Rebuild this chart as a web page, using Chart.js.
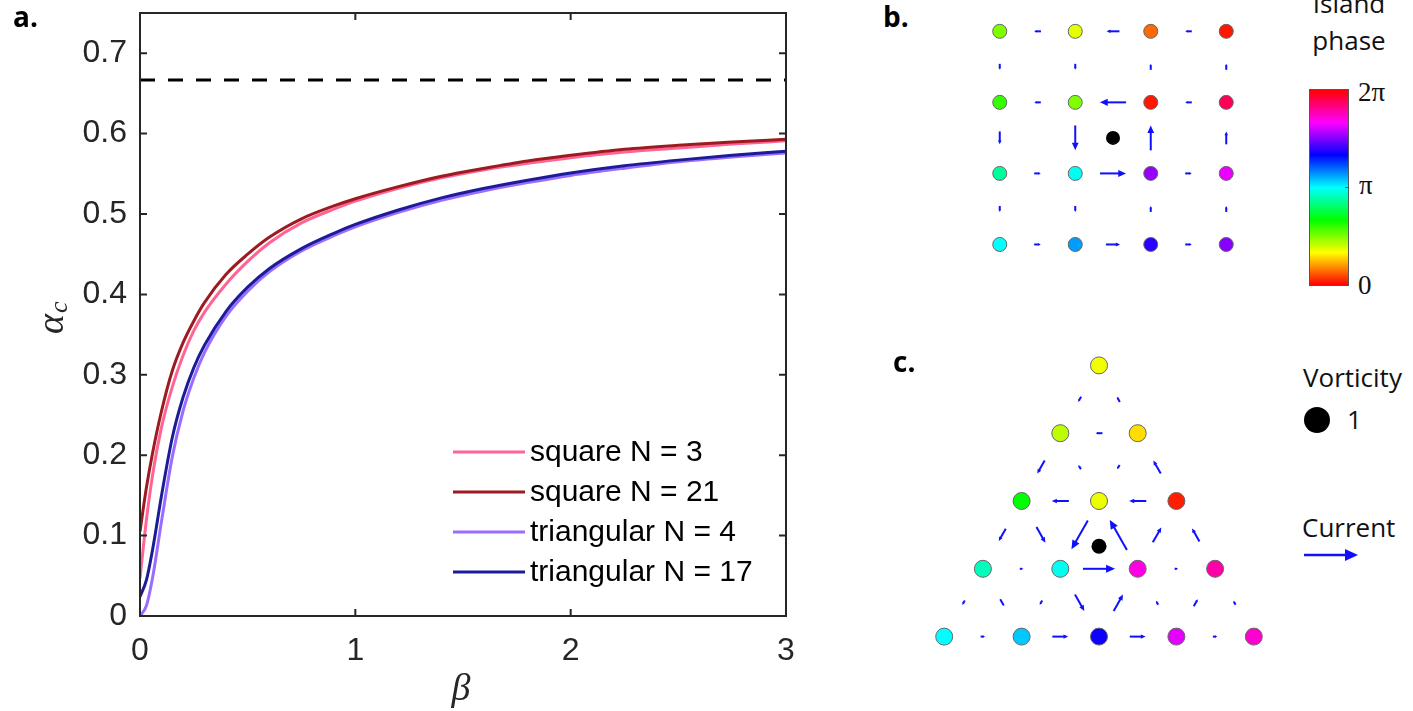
<!DOCTYPE html>
<html>
<head>
<meta charset="utf-8">
<script src="https://cdn.jsdelivr.net/npm/chart.js@4.4.1/dist/chart.umd.min.js"></script>
<style>
  html, body { margin: 0; padding: 0; background: #fff; }
  body { width: 1413px; height: 711px; position: relative; overflow: hidden; font-family: "Open Sans", sans-serif; color: #111; }
  canvas { position: absolute; }
  .tag { position: absolute; font-weight: 700; font-size: 28px; line-height: 1; color: #000; }
  .txt { position: absolute; font-size: 26px; line-height: 1; white-space: nowrap; }
  .tex { position: absolute; font-family: "Liberation Serif", serif; font-size: 27px; line-height: 1; }
  #cbar { position: absolute; left: 1309px; top: 89px; width: 40px; height: 197px; box-sizing: border-box; border: 1px solid #555; }
</style>
</head>
<body>
<canvas id="curves" width="800" height="711" style="left:0;top:0"></canvas>
<canvas id="square" width="318" height="286" style="left:954px;top:2px"></canvas>
<canvas id="triangle" width="406" height="358" style="left:896px;top:322px"></canvas>

<div class="tag" style="left:13px;top:2px">a.</div>
<div class="tag" style="left:883px;top:2px">b.</div>
<div class="tag" style="left:893px;top:347px">c.</div>

<!-- colour bar for the island phase -->
<div class="txt" style="left:1289px;top:-10px;width:120px;text-align:center">Island</div>
<div class="txt" style="left:1289px;top:27px;width:120px;text-align:center">phase</div>
<div id="cbar"></div>
<div style="position:absolute;left:1345px;top:187px;width:3px;height:1px;background:#555"></div>
<div class="tex" style="left:1358px;top:79px">2π</div>
<div class="tex" style="left:1359px;top:172px">π</div>
<div class="tex" style="left:1358px;top:272px">0</div>

<!-- key for vortices and currents -->
<div class="txt" style="left:1303px;top:364px">Vorticity</div>
<div style="position:absolute;left:1304px;top:407px;width:26px;height:26px;border-radius:50%;background:#000"></div>
<div class="txt" style="left:1347px;top:406px">1</div>
<div class="txt" style="left:1302px;top:514px">Current</div>
<svg style="position:absolute;left:1300px;top:545px" width="64" height="20">
  <line x1="4" y1="10" x2="48" y2="10" stroke="#1010ff" stroke-width="2.5"/>
  <polygon points="58,10 45,4 45,16" fill="#1010ff"/>
</svg>

<script>
// ---- panel a: critical coupling vs beta ----
const beta = [0, 0.03, 0.06, 0.1, 0.15, 0.2, 0.25, 0.3, 0.4, 0.5, 0.6, 0.75, 0.9, 1.0, 1.2, 1.4, 1.6, 1.8, 2.0, 2.25, 2.5, 2.75, 3.0];
const squareN3 = [0.047, 0.12, 0.178, 0.235, 0.285, 0.324, 0.355, 0.378, 0.413, 0.441, 0.464, 0.489, 0.506, 0.516, 0.532, 0.545, 0.555, 0.563, 0.57, 0.577, 0.582, 0.587, 0.591];
const squareN21 = [0.105, 0.16, 0.205, 0.255, 0.305, 0.34, 0.367, 0.39, 0.425, 0.45, 0.471, 0.494, 0.51, 0.519, 0.534, 0.547, 0.557, 0.566, 0.573, 0.5805, 0.5855, 0.5895, 0.593];
const triN4 = [0, 0.013, 0.05, 0.118, 0.198, 0.255, 0.296, 0.328, 0.373, 0.404, 0.428, 0.454, 0.473, 0.484, 0.502, 0.517, 0.529, 0.539, 0.548, 0.557, 0.565, 0.571, 0.576];
const triN17 = [0.024, 0.045, 0.085, 0.15, 0.222, 0.272, 0.309, 0.337, 0.379, 0.409, 0.432, 0.457, 0.476, 0.487, 0.505, 0.52, 0.532, 0.542, 0.551, 0.56, 0.567, 0.573, 0.578];
const alphaLimit = 2 / 3;

const seriesLabels = ["square N = 3", "square N = 21", "triangular N = 4", "triangular N = 17"];
const seriesValues = [squareN3, squareN21, triN4, triN17];
const seriesColors = ["#ff6495", "#9b1b20", "#9a6cff", "#1c1c99"];
const seriesOrder = [4, 3, 2, 1];

const xTicks = [0, 1, 2, 3];
const yTicks = [0, 0.1, 0.2, 0.3, 0.4, 0.5, 0.6, 0.7];

// ---- panel b: square lattice, phases in units of pi ----
const sqPhase = [
  [0.5, 0.37, 0.14, 0.03],
  [0.6, 0.5, 0.03, 1.89],
  [0.87, 0.98, 1.53, 1.64],
  [1.0, 1.13, 1.39, 1.51]
];
// bond currents: horizontal (+ = to the right), vertical (+ = downwards)
const sqCurrentH = [
  [-0.23, -0.43, -0.22],
  [-0.22, -0.87, -0.22],
  [0.22, 0.87, 0.22],
  [0.22, 0.47, 0.22]
];
const sqCurrentV = [
  [0.2, 0.2, -0.2, -0.2],
  [0.43, 0.83, -0.83, -0.43],
  [0.2, 0.2, -0.2, -0.2]
];
const sqVortexCell = [[1, 1], [1, 2], [2, 1], [2, 2]];

// ---- panel c: triangular lattice, phases in units of pi ----
const triPhase = [
  [0.35],
  [0.42, 0.29],
  [0.67, 0.36, 0.04],
  [0.91, 0.98, 1.70, 1.78],
  [1.0, 1.07, 1.35, 1.63, 1.73]
];
// [row, k] -> [row, k], current flowing from the first island to the second
const triLinks = [
  [0, 0, 1, 0, 0.2], [1, 1, 0, 0, 0.2], [1, 1, 1, 0, 0.23],
  [1, 0, 2, 0, 0.5], [2, 1, 1, 0, 0.17], [1, 1, 2, 1, 0.17], [2, 2, 1, 1, 0.5],
  [2, 2, 2, 1, 0.57], [2, 1, 2, 0, 0.57],
  [2, 0, 3, 0, 0.47], [2, 0, 3, 1, 0.6], [2, 1, 3, 1, 1.1], [3, 2, 2, 1, 1.15], [3, 2, 2, 2, 0.57], [3, 3, 2, 2, 0.5],
  [3, 0, 3, 1, 0.12], [3, 1, 3, 2, 1.07], [3, 2, 3, 3, 0.12],
  [3, 0, 4, 0, 0.17], [3, 0, 4, 1, 0.27], [3, 1, 4, 1, 0.17], [3, 1, 4, 2, 0.63],
  [4, 2, 3, 2, 0.63], [4, 3, 3, 2, 0.15], [4, 3, 3, 3, 0.27], [4, 4, 3, 3, 0.15],
  [4, 0, 4, 1, 0.15], [4, 1, 4, 2, 0.53], [4, 2, 4, 3, 0.53], [4, 3, 4, 4, 0.15]
];
const triVortexCell = [[2, 1], [3, 1], [3, 2]];

const arrowScale = 30;     // px per unit current
const arrowColor = "#1010ff";

// hsv colour wheel, phase p in units of pi
function phaseColor(p) {
  const h = ((p % 2) + 2) % 2 / 2 * 6;
  const i = Math.floor(h) % 6, f = h - Math.floor(h);
  const rgb = [[1, f, 0], [1 - f, 1, 0], [0, 1, f], [0, 1 - f, 1], [f, 0, 1], [1, 0, 1 - f]][i];
  return "rgb(" + rgb.map(c => Math.round(c * 255)).join(",") + ")";
}

// colour bar gradient
(function () {
  const stops = [];
  for (let s = 0; s <= 12; s++) stops.push(phaseColor(s / 6) + " " + (s / 12 * 100).toFixed(2) + "%");
  document.getElementById("cbar").style.background = "linear-gradient(to top, " + stops.join(", ") + ")";
})();

// box with inward ticks, axis titles and the legend
const frame = {
  id: "frame",
  afterDraw(chart) {
    const { ctx, chartArea: a, scales: { x, y } } = chart;
    ctx.save();
    ctx.strokeStyle = "#262626";
    ctx.lineWidth = 2;
    ctx.strokeRect(a.left, a.top, a.right - a.left, a.bottom - a.top);
    ctx.beginPath();
    xTicks.forEach(v => {
      const px = x.getPixelForValue(v);
      ctx.moveTo(px, a.bottom); ctx.lineTo(px, a.bottom - 7);
      ctx.moveTo(px, a.top); ctx.lineTo(px, a.top + 7);
    });
    yTicks.forEach(v => {
      const py = y.getPixelForValue(v);
      ctx.moveTo(a.left, py); ctx.lineTo(a.left + 7, py);
      ctx.moveTo(a.right, py); ctx.lineTo(a.right - 7, py);
    });
    ctx.stroke();

    // axis titles
    ctx.fillStyle = "#262626";
    ctx.textBaseline = "alphabetic";
    ctx.textAlign = "center";
    ctx.font = 'italic 38px "Liberation Serif"';
    ctx.fillText("β", 461, 700);
    ctx.translate(63, 334);
    ctx.rotate(-Math.PI / 2);
    ctx.textAlign = "left";
    ctx.fillText("α", 0, 0);
    const w = ctx.measureText("α").width;
    ctx.font = 'italic 26px "Liberation Serif"';
    ctx.fillText("c", w + 1, 4);
    ctx.restore();

    // legend
    ctx.save();
    ctx.font = '30px "Liberation Sans"';
    ctx.textBaseline = "middle";
    ctx.textAlign = "left";
    seriesLabels.forEach((lab, i) => {
      const ly = 452 + i * 40;
      ctx.strokeStyle = seriesColors[i];
      ctx.lineWidth = 3;
      ctx.beginPath(); ctx.moveTo(453, ly); ctx.lineTo(525, ly); ctx.stroke();
      ctx.fillStyle = "#000";
      ctx.fillText(lab, 530, ly + 1);
    });
    ctx.restore();
  }
};

const curveSets = seriesLabels.map((lab, i) => ({
  label: lab,
  data: beta.map((b, j) => ({ x: b, y: seriesValues[i][j] })),
  borderColor: seriesColors[i],
  borderWidth: 3,
  pointRadius: 0,
  cubicInterpolationMode: "monotone",
  order: seriesOrder[i]
}));
curveSets.push({
  label: "limit",
  data: [{ x: xTicks[0], y: alphaLimit }, { x: xTicks[xTicks.length - 1], y: alphaLimit }],
  borderColor: "#000",
  borderWidth: 3,
  borderDash: [15, 13],
  pointRadius: 0,
  order: 5
});

const tickFont = { family: "Liberation Sans", size: 32 };

// keep the plot box fixed: no extra room reserved for edge tick labels
function fixBox(size, prop) {
  return s => {
    s[prop] = size;
    s.paddingTop = 0; s.paddingBottom = 0; s.paddingLeft = 0; s.paddingRight = 0;
  };
}

new Chart(document.getElementById("curves"), {
  type: "line",
  data: { datasets: curveSets },
  options: {
    responsive: false,
    animation: false,
    events: [],
    layout: { padding: { top: 13, right: 14, left: 0, bottom: 0 } },
    plugins: { legend: { display: false }, tooltip: { enabled: false } },
    scales: {
      x: {
        type: "linear", min: 0, max: 3,
        afterBuildTicks: s => { s.ticks = xTicks.map(v => ({ value: v })); },
        afterFit: fixBox(95, "height"),
        grid: { display: false, drawTicks: false },
        border: { display: false },
        ticks: { font: tickFont, color: "#262626", padding: 16, maxRotation: 0, autoSkip: false, callback: v => String(v) }
      },
      y: {
        type: "linear", min: 0, max: 0.75,
        afterBuildTicks: s => { s.ticks = yTicks.map(v => ({ value: v })); },
        afterFit: fixBox(140, "width"),
        grid: { display: false, drawTicks: false },
        border: { display: false },
        ticks: { font: tickFont, color: "#262626", padding: 13, autoSkip: false, callback: v => String(v) }
      }
    }
  },
  plugins: [frame]
});

// arrows for the bond currents, centred on each bond
function drawArrow(ctx, cx, cy, ux, uy, len) {
  const hx = cx + ux * len / 2, hy = cy + uy * len / 2;
  const tx = cx - ux * len / 2, ty = cy - uy * len / 2;
  const head = Math.min(Math.max(0.3 * len, 2.5), 9);
  const hw = head * 0.45;
  ctx.beginPath();
  ctx.moveTo(tx, ty);
  ctx.lineTo(hx - ux * head * 0.6, hy - uy * head * 0.6);
  ctx.stroke();
  ctx.beginPath();
  ctx.moveTo(hx, hy);
  ctx.lineTo(hx - ux * head - uy * hw, hy - uy * head + ux * hw);
  ctx.lineTo(hx - ux * head + uy * hw, hy - uy * head - ux * hw);
  ctx.closePath();
  ctx.fill();
}

const currents = {
  id: "currents",
  beforeDatasetsDraw(chart) {
    const { ctx, scales: { x, y } } = chart;
    const bonds = chart.options.plugins.currents.bonds;
    ctx.save();
    ctx.strokeStyle = arrowColor;
    ctx.fillStyle = arrowColor;
    ctx.lineWidth = 2;
    bonds.forEach(b => {
      const x1 = x.getPixelForValue(b[0]), y1 = y.getPixelForValue(b[1]);
      const x2 = x.getPixelForValue(b[2]), y2 = y.getPixelForValue(b[3]);
      const d = Math.hypot(x2 - x1, y2 - y1);
      let ux = (x2 - x1) / d, uy = (y2 - y1) / d;
      if (b[4] < 0) { ux = -ux; uy = -uy; }
      drawArrow(ctx, (x1 + x2) / 2, (y1 + y2) / 2, ux, uy, Math.abs(b[4]) * arrowScale);
    });
    ctx.restore();
  }
};

// square lattice: column -> x, row -> 3 - row
const sqNodes = [], sqColors = [], sqBonds = [];
sqPhase.forEach((row, r) => row.forEach((p, c) => {
  sqNodes.push({ x: c, y: 3 - r });
  sqColors.push(phaseColor(p));
}));
sqCurrentH.forEach((row, r) => row.forEach((I, c) => sqBonds.push([c, 3 - r, c + 1, 3 - r, I])));
sqCurrentV.forEach((row, r) => row.forEach((I, c) => sqBonds.push([c, 3 - r, c, 2 - r, I])));
const sqVortex = [{
  x: sqVortexCell.reduce((s, n) => s + n[1], 0) / sqVortexCell.length,
  y: 3 - sqVortexCell.reduce((s, n) => s + n[0], 0) / sqVortexCell.length
}];

function latticeChart(id, nodes, colors, vortex, bonds, xr, yr, radius, vRadius) {
  return new Chart(document.getElementById(id), {
    type: "scatter",
    data: {
      datasets: [
        { data: nodes, pointRadius: radius, pointBackgroundColor: colors, pointBorderColor: "#666", pointBorderWidth: 1, clip: false },
        { data: vortex, pointRadius: vRadius, pointBackgroundColor: "#000", pointBorderColor: "#000", pointBorderWidth: 0, clip: false }
      ]
    },
    options: {
      responsive: false,
      animation: false,
      events: [],
      layout: { padding: 0 },
      plugins: { legend: { display: false }, tooltip: { enabled: false }, currents: { bonds: bonds } },
      scales: {
        x: { type: "linear", display: false, min: xr[0], max: xr[1] },
        y: { type: "linear", display: false, min: yr[0], max: yr[1] }
      }
    },
    plugins: [currents]
  });
}

latticeChart("square", sqNodes, sqColors, sqVortex, sqBonds, [-0.5, 3.5], [-0.5, 3.3], 7, 7);

// triangular lattice: island k of row r sits at x = k - r/2, y = 4 - r
const triX = (r, k) => k - r / 2;
const triY = r => 4 - r;
const triNodes = [], triColors = [];
triPhase.forEach((row, r) => row.forEach((p, k) => {
  triNodes.push({ x: triX(r, k), y: triY(r) });
  triColors.push(phaseColor(p));
}));
const triBonds = triLinks.map(l => [triX(l[0], l[1]), triY(l[0]), triX(l[2], l[3]), triY(l[2]), l[4]]);
const triVortex = [{
  x: triVortexCell.reduce((s, n) => s + triX(n[0], n[1]), 0) / triVortexCell.length,
  y: triVortexCell.reduce((s, n) => s + triY(n[0]), 0) / triVortexCell.length
}];

latticeChart("triangle", triNodes, triColors, triVortex, triBonds, [-2.5, 2.5], [-0.5, 4.5], 8.5, 7.5);
</script>
</body>
</html>
